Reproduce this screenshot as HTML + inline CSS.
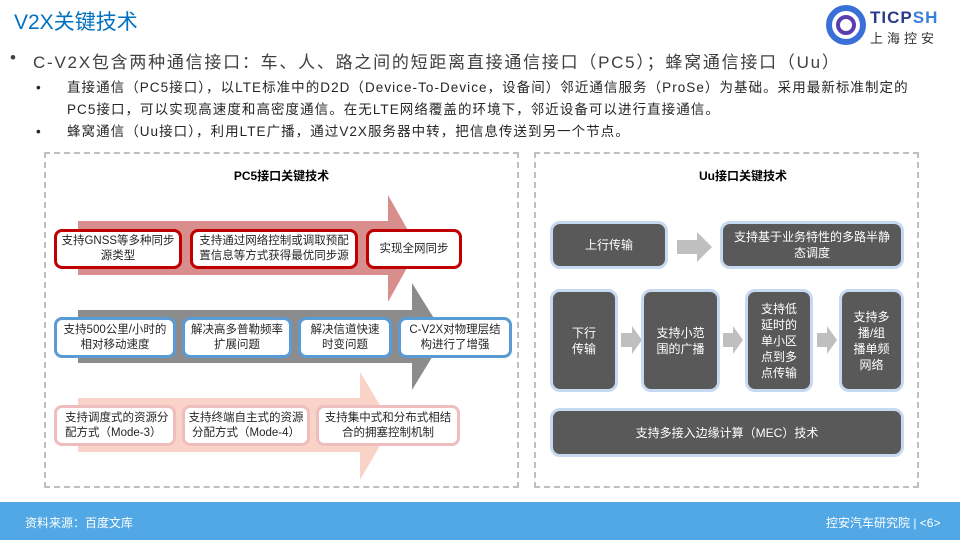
<!DOCTYPE html>
<html><head><meta charset="utf-8"><style>
*{margin:0;padding:0;box-sizing:border-box}
body{width:960px;height:540px;position:relative;background:#fff;overflow:hidden;font-family:"Liberation Sans","Noto Sans CJK SC",sans-serif;color:#262626}
.a{position:absolute}
.t{font-size:11.5px;line-height:15px;text-align:center;display:flex;align-items:center;justify-content:center;background:#fff;border-radius:8px;white-space:nowrap}
.r{border:3px solid #c00000}
.b{border:3px solid #5b9bd5}
.p{border:3px solid #efbdbd}
.d{background:#595959;color:#fff;border:3px solid #c6d9f0;border-radius:10px;font-size:12px;line-height:16px;text-align:center;display:flex;align-items:center;justify-content:center;position:absolute}
.panel{position:absolute;border:2px dashed #bfbfbf}
.h{position:absolute;font-weight:bold;font-size:12px;color:#000;text-align:center}
.bl{position:absolute;font-size:13.5px;line-height:22px;color:#262626;letter-spacing:1.05px;white-space:nowrap}
</style></head><body>
<div class="a" style="left:14px;top:6px;font-size:21px;color:#0070c0">V2X关键技术</div>
<svg class="a" style="left:826px;top:5px" width="40" height="40"><circle cx="20" cy="20" r="17" fill="none" stroke="#3a6fd8" stroke-width="6"/><circle cx="20" cy="20" r="8" fill="none" stroke="#5a3fb0" stroke-width="4"/></svg>
<div class="a" style="left:870px;top:8px;font-size:17px;font-weight:bold;color:#2b3a8a;letter-spacing:1px">TIC<span style="color:#2b3a8a">P</span><span style="color:#3a7fd8">SH</span></div>
<div class="a" style="left:870px;top:28px;font-size:13px;color:#333;letter-spacing:4px">上海控安</div>

<div class="a" style="left:10px;top:48px;font-size:17px;color:#404040">•</div>
<div class="a" style="left:33px;top:48px;font-size:17px;color:#404040;letter-spacing:1.75px;white-space:nowrap">C-V2X包含两种通信接口：车、人、路之间的短距离直接通信接口（PC5）；蜂窝通信接口（Uu）</div>
<div class="bl" style="left:36px;top:77px">•</div>
<div class="bl" style="left:67px;top:77px">直接通信（PC5接口），以LTE标准中的D2D（Device-To-Device，设备间）邻近通信服务（ProSe）为基础。采用最新标准制定的<br>PC5接口，可以实现高速度和高密度通信。在无LTE网络覆盖的环境下，邻近设备可以进行直接通信。</div>
<div class="bl" style="left:36px;top:121px">•</div>
<div class="bl" style="left:67px;top:121px">蜂窝通信（Uu接口），利用LTE广播，通过V2X服务器中转，把信息传送到另一个节点。</div>

<div class="panel" style="left:44px;top:152px;width:475px;height:336px"></div>
<div class="panel" style="left:534px;top:152px;width:385px;height:336px"></div>
<div class="h" style="left:44px;top:167px;width:475px">PC5接口关键技术</div>
<div class="h" style="left:534px;top:167px;width:418px">Uu接口关键技术</div>

<svg class="a" style="left:0;top:0" width="960" height="540">
<polygon points="78,221 388,221 388,195 418,248 388,302 388,275 78,275" fill="#d98e8e"/>
<polygon points="78,310 412,310 412,283 445,336 412,390 412,363 78,363" fill="#8c8c8c"/>
<polygon points="78,398 360,398 360,372 392,425 360,480 360,452 78,452" fill="#fad3c8"/>
<polygon points="677,240 697,240 697,232 712,247 697,262 697,254 677,254" fill="#bfbfbf"/>
<polygon points="621,333 632,333 632,326 642,340 632,354 632,347 621,347" fill="#bfbfbf"/>
<polygon points="723,333 733,333 733,326 743,340 733,354 733,347 723,347" fill="#bfbfbf"/>
<polygon points="817,333 827,333 827,326 837,340 827,354 827,347 817,347" fill="#bfbfbf"/>
</svg>

<div class="a t r" style="left:54px;top:229px;width:128px;height:40px">支持GNSS等多种同步<br>源类型</div>
<div class="a t r" style="left:190px;top:229px;width:168px;height:40px">支持通过网络控制或调取预配<br>置信息等方式获得最优同步源</div>
<div class="a t r" style="left:366px;top:229px;width:96px;height:40px">实现全网同步</div>

<div class="a t b" style="left:54px;top:317px;width:122px;height:41px">支持500公里/小时的<br>相对移动速度</div>
<div class="a t b" style="left:182px;top:317px;width:110px;height:41px">解决高多普勒频率<br>扩展问题</div>
<div class="a t b" style="left:298px;top:317px;width:94px;height:41px">解决信道快速<br>时变问题</div>
<div class="a t b" style="left:398px;top:317px;width:114px;height:41px">C-V2X对物理层结<br>构进行了增强</div>

<div class="a t p" style="left:54px;top:405px;width:122px;height:41px;text-align:left;justify-content:flex-start;padding-left:8px">支持调度式的资源分<br>配方式（Mode-3）</div>
<div class="a t p" style="left:182px;top:405px;width:128px;height:41px">支持终端自主式的资源<br>分配方式（Mode-4）</div>
<div class="a t p" style="left:316px;top:405px;width:144px;height:41px">支持集中式和分布式相结<br>合的拥塞控制机制</div>

<div class="d" style="left:550px;top:221px;width:118px;height:48px">上行传输</div>
<div class="d" style="left:720px;top:221px;width:184px;height:48px">支持基于业务特性的多路半静<br>态调度</div>
<div class="d" style="left:550px;top:289px;width:68px;height:103px">下行<br>传输</div>
<div class="d" style="left:641px;top:289px;width:79px;height:103px">支持小范<br>围的广播</div>
<div class="d" style="left:745px;top:289px;width:68px;height:103px">支持低<br>延时的<br>单小区<br>点到多<br>点传输</div>
<div class="d" style="left:839px;top:289px;width:65px;height:103px">支持多<br>播/组<br>播单频<br>网络</div>
<div class="d" style="left:550px;top:408px;width:354px;height:49px">支持多接入边缘计算（MEC）技术</div>

<div class="a" style="left:0;top:502px;width:960px;height:38px;background:#52a8e4"></div>
<div class="a" style="left:25px;top:514px;font-size:12px;color:#fff">资料来源：百度文库</div>
<div class="a" style="left:826px;top:514px;font-size:12px;color:#fff">控安汽车研究院 | &lt;6&gt;</div>
</body></html>
